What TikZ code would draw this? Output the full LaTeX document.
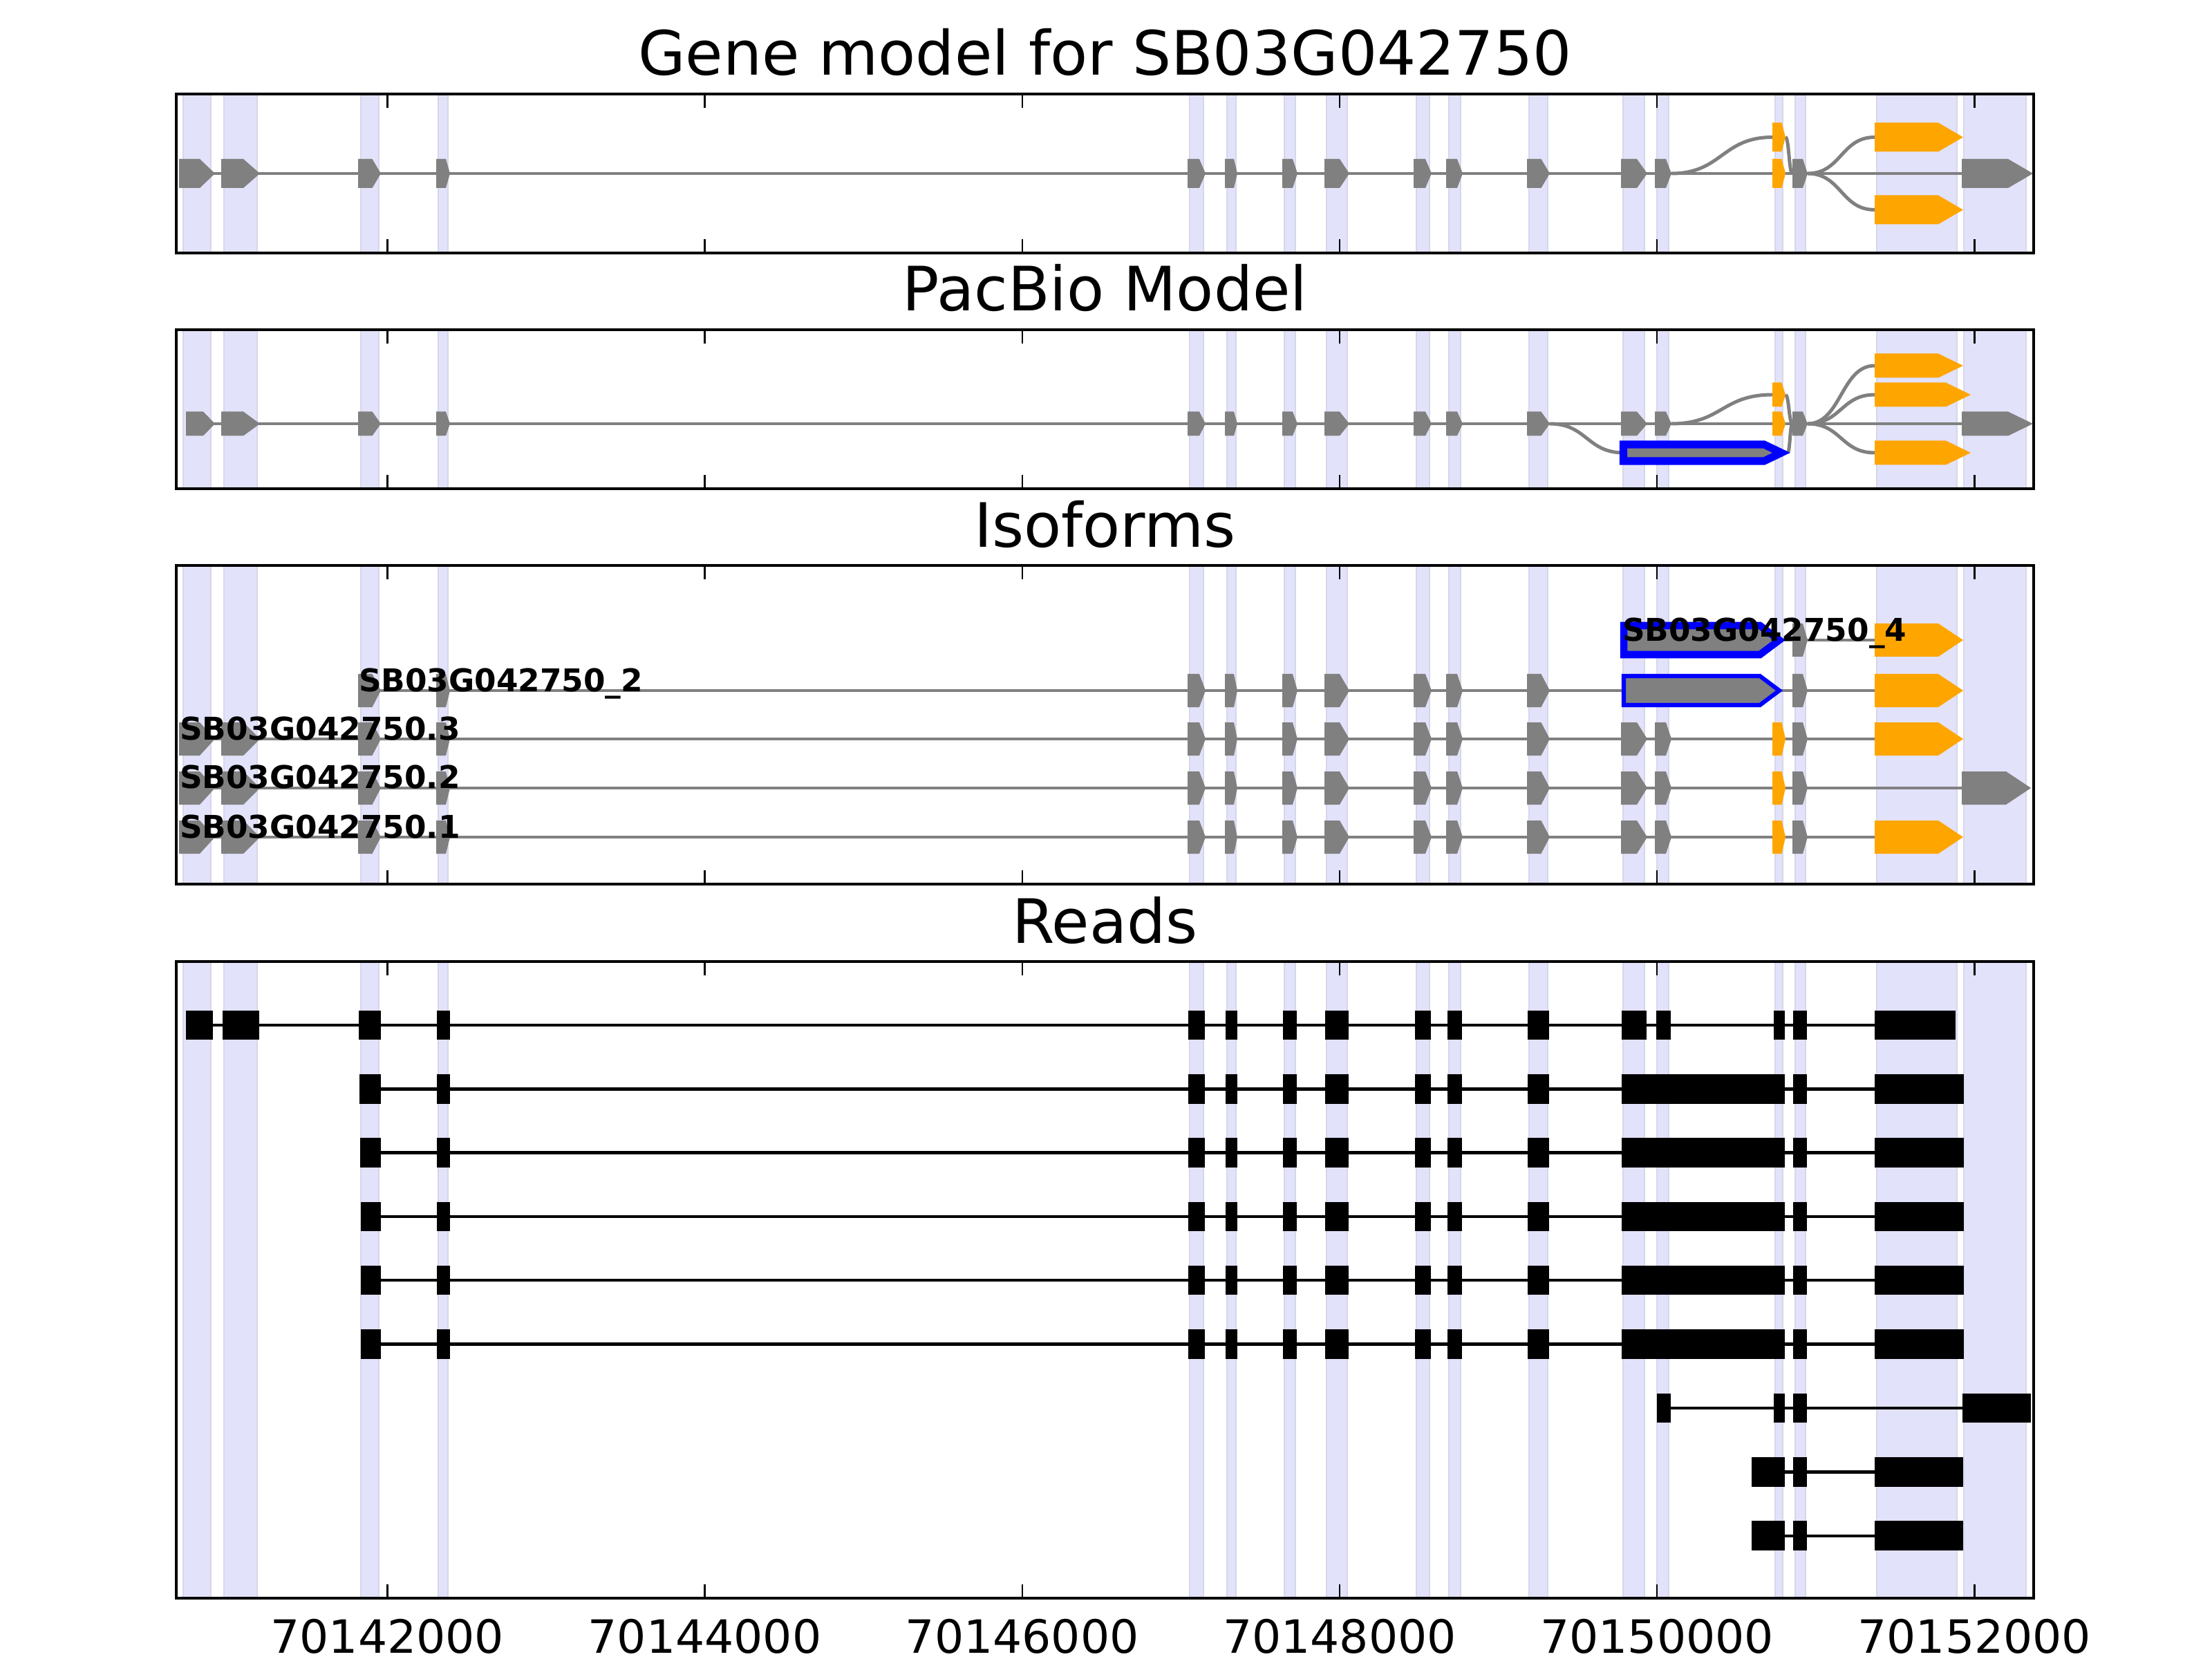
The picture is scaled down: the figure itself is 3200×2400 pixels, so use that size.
\documentclass[tikz,border=0pt]{standalone}
\usepackage{fontspec}
\setmainfont{DejaVu Sans}
\usepackage{tikz}

\definecolor{exongray}{RGB}{128,128,128}
\definecolor{utrorange}{RGB}{255,165,0}
\definecolor{bandfill}{RGB}{226,226,250}
\definecolor{bandedge}{RGB}{214,214,234}

% start, end, lane, height, colour
\newcommand{\exon}[5]{
    \pgfmathsetmacro{\exontip}{min(36,max(0.5*(#2-#1)-4,3))}
    \fill[#5] (#1,#3-#4/2) -- (#2-\exontip,#3-#4/2) -- (#2,#3) -- (#2-\exontip,#3+#4/2) -- (#1,#3+#4/2) -- cycle;
}
% x1, y1, x2, y2
\newcommand{\splice}[4]{
    \draw[intron] (#1,#2) .. controls ({0.5*(#1+#3)},#2) and ({0.5*(#1+#3)},#4) .. (#3,#4);
}
\newcommand{\readbox}[3]{
    \fill (#1,#3-21.25) rectangle (#2,#3+21.25);
}
\newcommand{\exonbands}[2]{
    \foreach \a/\b in {265/305,324/372,522/548,634/648,1721/1741,1775/1788,1858/1874,1919/1949,2049/2068,2096/2113,2212/2239,2348/2379,2397/2414,2568/2579,2597/2612,2715/2831,2841/2931}{
        \filldraw[exonband] (\a,#1) rectangle (\b,#2);
    }
}
\newcommand{\panelframe}[2]{
    \foreach \i in {0,...,5}{
        \draw[tickmark] ({560.4+459.2*\i},#1) -- ++(0,20);
        \draw[tickmark] ({560.4+459.2*\i},#2) -- ++(0,-20);
    }
    \draw[panelbox] (255,#1) rectangle (2942,#2);
}
\newcommand{\midexons}{320/376,518/551,631/651,1718/1744,1772/1790,1855/1877,1916/1952,2045/2071,2092/2116,2209/2242,2345/2383,2394/2418}
\newcommand{\readmid}{632/651,1719/1743,1773/1790,1856/1876,1917/1951,2047/2070,2094/2115,2210/2241}

\begin{document}
\begin{tikzpicture}[x=0.0025in,y=-0.0025in,
    exonband/.style={fill=bandfill,draw=bandedge,line width=0.35pt},
    intron/.style={draw=exongray,line width=0.9pt},
    readline/.style={line width=0.8pt},
    panelbox/.style={line width=0.8pt},
    tickmark/.style={line width=0.45pt},
    pbexon/.style={draw=blue,fill=exongray,line join=miter},
    paneltitle/.style={font=\fontsize{16}{19}\selectfont,anchor=base,inner sep=0pt},
    isolabel/.style={font=\fontsize{8.2}{10}\selectfont\bfseries,anchor=base west,inner sep=0pt},
    ticklabel/.style={font=\fontsize{12}{14}\selectfont,anchor=base,inner sep=0pt}]
    \fill[white] (0,0) rectangle (3200,2400);
    \useasboundingbox (0,0) rectangle (3200,2400);

    % Drawing the gene model
    \exonbands{136}{366}
    \draw[intron] (259,251) -- (2838,251);
    \splice{2418}{251}{2564}{198.5}
    \splice{2583}{198.5}{2593}{251}
    \splice{2615}{251}{2712}{198.5}
    \splice{2615}{251}{2712}{303.5}
    \exon{259}{311}{251}{42}{exongray}
    \foreach \a/\b in \midexons {\exon{\a}{\b}{251}{42}{exongray}}
    \exon{2564}{2583}{198.5}{42}{utrorange}
    \exon{2564}{2583}{251}{42}{utrorange}
    \exon{2593}{2615}{251}{42}{exongray}
    \exon{2712}{2840}{198.5}{42}{utrorange}
    \exon{2712}{2840}{303.5}{42}{utrorange}
    \exon{2838}{2941}{251}{42}{exongray}
    \panelframe{136}{366}
    \node[paneltitle] (ttlgene) at (1598.5,109) {Gene model for SB03G042750};

    % Drawing the PacBio model
    \exonbands{477}{707}
    \draw[intron] (269,613) -- (2838,613);
    \splice{2242}{613}{2349}{655}
    \splice{2418}{613}{2564}{571}
    \splice{2583}{571}{2593}{613}
    \splice{2586}{655}{2593}{613}
    \splice{2615}{613}{2712}{529}
    \splice{2615}{613}{2712}{571}
    \splice{2615}{613}{2712}{655}
    \exon{269}{311}{613}{35}{exongray}
    \foreach \a/\b in \midexons {\exon{\a}{\b}{613}{35}{exongray}}
    \exon{2564}{2583}{571}{35}{utrorange}
    \exon{2564}{2583}{613}{35}{utrorange}
    \exon{2593}{2615}{613}{35}{exongray}
    \exon{2712}{2840}{529}{35}{utrorange}
    \exon{2712}{2851}{571}{35}{utrorange}
    \exon{2712}{2851}{655}{35}{utrorange}
    \exon{2838}{2941}{613}{35}{exongray}
    \filldraw[pbexon,line width=2pt] (2348.5,643) -- (2552,643) -- (2577,655) -- (2552,667) -- (2348.5,667) -- cycle;
    \panelframe{477}{707}
    \node[paneltitle] (ttlpacbio) at (1598.5,450) {PacBio Model};

    % Drawing the isoforms
    \exonbands{818}{1279}
    % new isoform 4
    \draw[intron] (2348,926) -- (2712,926);
    \filldraw[pbexon,line width=1.9pt] (2349,905) -- (2546,905) -- (2574,926) -- (2546,947) -- (2349,947) -- cycle;
    \exon{2593}{2615}{926}{48}{exongray}
    \exon{2712}{2840}{926}{48}{utrorange}
    % new isoform 2
    \draw[intron] (518,999) -- (2712,999);
    \foreach \a/\b in {518/551,631/651,1718/1744,1772/1790,1855/1877,1916/1952,2045/2071,2092/2116,2209/2242} {\exon{\a}{\b}{999}{48}{exongray}}
    \filldraw[pbexon,line width=1.1pt] (2349,978) -- (2546,978) -- (2574,999) -- (2546,1020) -- (2349,1020) -- cycle;
    \exon{2593}{2615}{999}{48}{exongray}
    \exon{2712}{2840}{999}{48}{utrorange}
    % annotated isoforms
    \foreach \y/\last in {1069/2712,1140/2838,1211/2712}{
        \draw[intron] (259,\y) -- (\last,\y);
        \exon{259}{311}{\y}{48}{exongray}
        \foreach \a/\b in \midexons {\exon{\a}{\b}{\y}{48}{exongray}}
        \exon{2564}{2583}{\y}{48}{utrorange}
        \exon{2593}{2615}{\y}{48}{exongray}
    }
    \exon{2712}{2840}{1069}{48}{utrorange}
    \exon{2838}{2938}{1140}{48}{exongray}
    \exon{2712}{2840}{1211}{48}{utrorange}
    \node[isolabel] (iso4) at (2346,928) {SB03G042750\_4};
    \node[isolabel] (iso2) at (518,1000) {SB03G042750\_2};
    \node[isolabel] (isoc) at (259,1070) {SB03G042750.3};
    \node[isolabel] (isob) at (259,1141) {SB03G042750.2};
    \node[isolabel] (isoa) at (259,1212) {SB03G042750.1};
    \panelframe{818}{1279}
    \node[paneltitle] (ttliso) at (1598.5,791) {Isoforms};

    % Drawing the reads
    \exonbands{1391}{2312}
    \draw[readline] (269,1483) -- (2712,1483);
    \foreach \a/\b in {269/308,322/375,519/551,2346/2382,2396/2417,2566/2582,2594/2614,2712/2829}
        {\readbox{\a}{\b}{1483}}
    \foreach \a/\b in \readmid {\readbox{\a}{\b}{1483}}
    \foreach \i/\s in {1/520,2/521,3/522,4/522,5/522}{
        \pgfmathsetmacro{\y}{1483+92.3*\i}
        \draw[readline] (\s,\y) -- (2712,\y);
        \foreach \a/\b in {\s/551,2346/2582,2594/2614,2712/2841}
            {\readbox{\a}{\b}{\y}}
        \foreach \a/\b in \readmid {\readbox{\a}{\b}{\y}}
    }
    \draw[readline] (2397,2037.1) -- (2839,2037.1);
    \foreach \a/\b in {2397/2417,2566/2582,2594/2614,2839/2938}
        {\readbox{\a}{\b}{2037.1}}
    \foreach \y in {2129.4,2221.7}{
        \draw[readline] (2534,\y) -- (2712,\y);
        \foreach \a/\b in {2534/2582,2594/2614,2712/2840}
            {\readbox{\a}{\b}{\y}}
    }
    \panelframe{1391}{2312}
    \node[paneltitle] (ttlreads) at (1598.5,1364) {Reads};

    % Axis labels
    \foreach \lab [count=\i from 0] in {70142000,70144000,70146000,70148000,70150000,70152000}
        \node[ticklabel] (tick\i) at ({560.4+459.2*\i},2391) {\lab};
\end{tikzpicture}
\end{document}
